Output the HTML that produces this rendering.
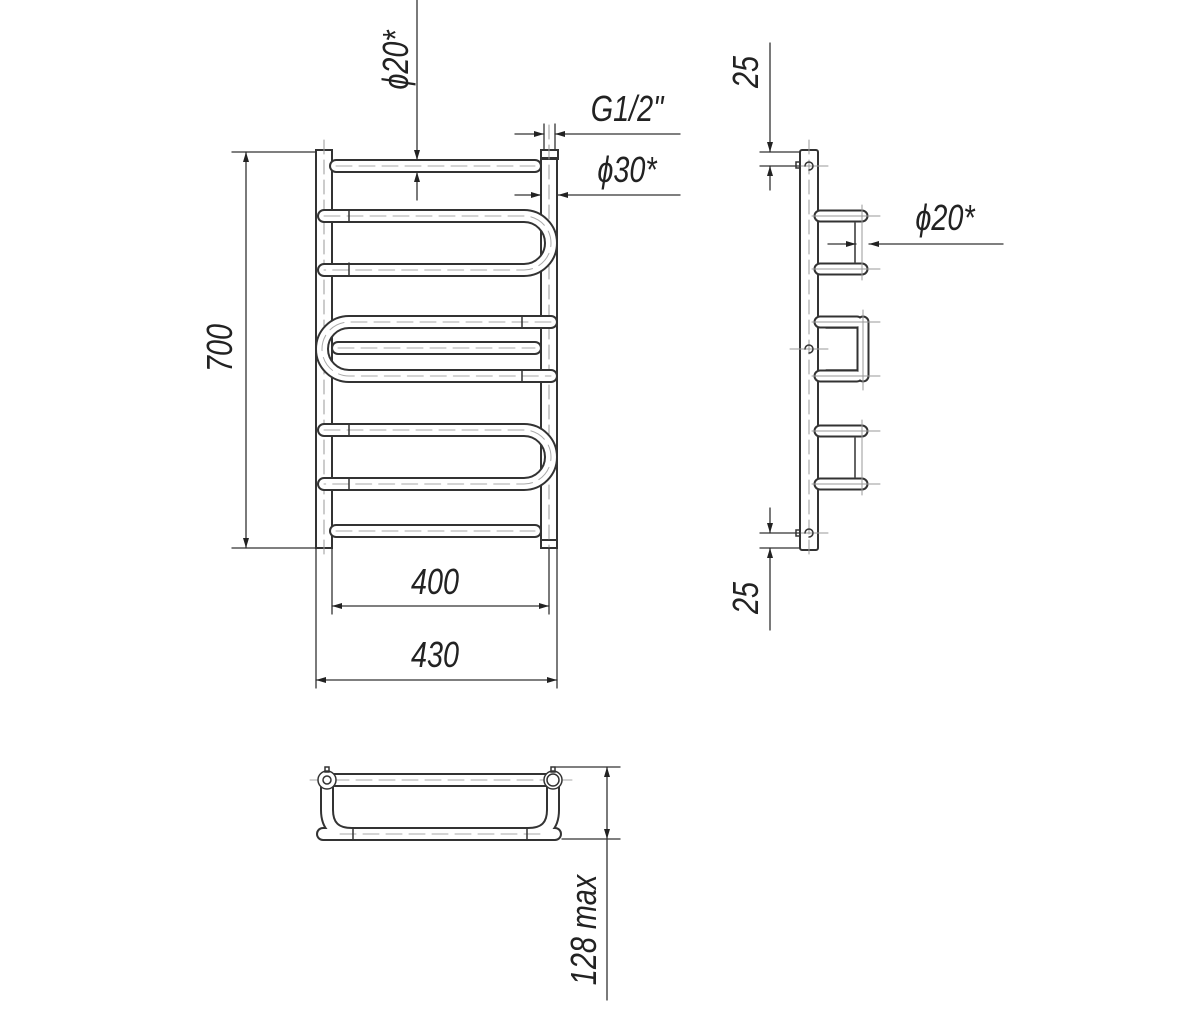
<!DOCTYPE html>
<html><head><meta charset="utf-8"><style>
html,body{margin:0;padding:0;background:#fff}
svg{display:block}
text{font-family:"Liberation Sans",sans-serif;font-style:italic;fill:#222;font-size:36px}
</style></head><body>
<svg width="1200" height="1011" viewBox="0 0 1200 1011" xmlns="http://www.w3.org/2000/svg">
<defs>
<marker id="a" viewBox="0 0 10 6" refX="10" refY="3" markerWidth="10" markerHeight="6" orient="auto-start-reverse" markerUnits="userSpaceOnUse"><path d="M0,0 L10,3 L0,6 z" fill="#222"/></marker>
</defs>
<g fill="none" stroke-linecap="round">
<rect x="316" y="150" width="16" height="398" stroke="#333" stroke-width="2" fill="#fff"/>
<rect x="541" y="158" width="16" height="390" stroke="#333" stroke-width="2" fill="#fff"/>
<rect x="541" y="150" width="17" height="9" stroke="#333" stroke-width="2"/>
<rect x="541" y="540" width="16" height="8" stroke="#333" stroke-width="2"/>
<line x1="324" y1="140" x2="324" y2="560" stroke="#999" stroke-width="1" stroke-dasharray="14 6"/>
<line x1="549" y1="125" x2="549" y2="560" stroke="#999" stroke-width="1" stroke-dasharray="14 6"/>
<g stroke="#333" stroke-width="14">
<path d="M336 166 H535"/><path d="M324 216 H524 A27 27 0 0 1 524 270 H324"/>
<path d="M551 322 H349 A27 27 0 0 0 349 376 H551"/><path d="M338 348 H535"/>
<path d="M324 430 H524 A27 27 0 0 1 524 484 H324"/><path d="M336 531 H535"/>
</g>
<g stroke="#fff" stroke-width="10">
<path d="M336 166 H535"/><path d="M324 216 H524 A27 27 0 0 1 524 270 H324"/>
<path d="M551 322 H349 A27 27 0 0 0 349 376 H551"/><path d="M338 348 H535"/>
<path d="M324 430 H524 A27 27 0 0 1 524 484 H324"/><path d="M336 531 H535"/>
</g>
<g stroke="#aaa" stroke-width="1" stroke-dasharray="16 7">
<path d="M336 166 H535"/><path d="M324 216 H524 A27 27 0 0 1 524 270 H324"/>
<path d="M551 322 H349 A27 27 0 0 0 349 376 H551"/><path d="M338 348 H535"/>
<path d="M324 430 H524 A27 27 0 0 1 524 484 H324"/><path d="M336 531 H535"/>
</g>
<g stroke="#333" stroke-width="1.5">
<line x1="349" y1="210" x2="349" y2="222"/><line x1="349" y1="263" x2="349" y2="276"/>
<line x1="522" y1="316" x2="522" y2="328"/><line x1="522" y1="370" x2="522" y2="382"/>
<line x1="349" y1="424" x2="349" y2="436"/><line x1="349" y1="478" x2="349" y2="490"/>
</g>
<g stroke="#333" stroke-width="1.3">
<line x1="232" y1="152" x2="316" y2="152"/><line x1="232" y1="548" x2="316" y2="548"/>
<line x1="246" y1="152" x2="246" y2="548" marker-start="url(#a)" marker-end="url(#a)"/>
<line x1="332" y1="548" x2="332" y2="614"/><line x1="549" y1="548" x2="549" y2="614"/>
<line x1="332" y1="606" x2="549" y2="606" marker-start="url(#a)" marker-end="url(#a)"/>
<line x1="316" y1="548" x2="316" y2="688"/><line x1="557" y1="548" x2="557" y2="688"/>
<line x1="316" y1="680" x2="557" y2="680" marker-start="url(#a)" marker-end="url(#a)"/>
<line x1="417" y1="0" x2="417" y2="160" marker-end="url(#a)"/>
<line x1="417" y1="200" x2="417" y2="172" marker-end="url(#a)"/>
<line x1="400" y1="160" x2="440" y2="160"/><line x1="400" y1="172" x2="440" y2="172"/>
<line x1="515" y1="134" x2="544" y2="134" marker-end="url(#a)"/>
<line x1="680" y1="134" x2="555" y2="134" marker-end="url(#a)"/>
<line x1="544" y1="124" x2="544" y2="150"/><line x1="555" y1="124" x2="555" y2="150"/>
<line x1="515" y1="195" x2="541" y2="195" marker-end="url(#a)"/>
<line x1="680" y1="195" x2="558" y2="195" marker-end="url(#a)"/>
</g>
</g>
<text transform="translate(232,348) rotate(-90) scale(0.8,1)" text-anchor="middle">700</text>
<text transform="translate(435,594) scale(0.8,1)" text-anchor="middle">400</text>
<text transform="translate(435,667) scale(0.8,1)" text-anchor="middle">430</text>
<text transform="translate(408,60) rotate(-90) scale(0.8,1)" text-anchor="middle">ϕ20*</text>
<text transform="translate(627,121) scale(0.8,1)" text-anchor="middle">G1/2"</text>
<text transform="translate(627,182) scale(0.8,1)" text-anchor="middle">ϕ30*</text>
<g fill="none" stroke-linecap="round">
<rect x="800" y="150" width="18" height="400" rx="2" stroke="#333" stroke-width="2" fill="#fff"/>
<line x1="809" y1="140" x2="809" y2="560" stroke="#999" stroke-width="1" stroke-dasharray="14 6"/>
<g stroke="#333" stroke-width="13"><path d="M820 216 H862 M820 269 H862 M820 431 H862 M820 484 H862 M863 322 V376 M820 322 H857 M820 376 H857"/></g>
<g stroke="#fff" stroke-width="9"><path d="M820 216 H862 M820 269 H862 M820 431 H862 M820 484 H862 M863 322 V376 M820 322 H857 M820 376 H857"/></g>
<g stroke="#333" stroke-width="1.5"><path d="M855 223 V262 M855 438 V477 M826 328 H857 M826 370 H857"/></g>
<g stroke="#999" stroke-width="1"><path d="M812 216 H880 M812 269 H880 M812 322 H880 M812 376 H880 M812 431 H880 M812 484 H880 M862 205 V280 M862 420 V495 M863 310 V390 M790 349 H828 M790 166 H828 M790 533 H828"/></g>
<g stroke="#333" stroke-width="1.5"><path d="M805 166 A4 4 0 1 1 809 170 M805 349 A4 4 0 1 1 809 353 M805 533 A4 4 0 1 1 809 537"/><rect x="796" y="162" width="4" height="6"/><rect x="796" y="530" width="4" height="6"/></g>
<g stroke="#333" stroke-width="1.3">
<line x1="760" y1="152" x2="800" y2="152"/><line x1="760" y1="166" x2="800" y2="166"/>
<line x1="770" y1="43" x2="770" y2="152" marker-end="url(#a)"/><line x1="770" y1="190" x2="770" y2="166" marker-end="url(#a)"/>
<line x1="760" y1="533" x2="800" y2="533"/><line x1="760" y1="548" x2="800" y2="548"/>
<line x1="770" y1="508" x2="770" y2="533" marker-end="url(#a)"/><line x1="770" y1="630" x2="770" y2="548" marker-end="url(#a)"/>
<line x1="828" y1="244" x2="856" y2="244" marker-end="url(#a)"/><line x1="1003" y1="244" x2="869" y2="244" marker-end="url(#a)"/>
</g>
</g>
<text transform="translate(758,72) rotate(-90) scale(0.8,1)" text-anchor="middle">25</text>
<text transform="translate(758,598) rotate(-90) scale(0.8,1)" text-anchor="middle">25</text>
<text transform="translate(945,230) scale(0.8,1)" text-anchor="middle">ϕ20*</text>
<g fill="none" stroke-linecap="round">
<g stroke="#333" stroke-width="14"><path d="M323 834 H555"/><path d="M327 780 H553"/><path d="M327 786 V810 Q327 834 352 834"/><path d="M553 786 V810 Q553 834 528 834"/></g>
<g stroke="#fff" stroke-width="10"><path d="M323 834 H555"/><path d="M327 780 H553"/><path d="M327 786 V810 Q327 834 352 834"/><path d="M553 786 V810 Q553 834 528 834"/></g>
<g stroke="#aaa" stroke-width="1" stroke-dasharray="16 7"><path d="M310 780 H572 M340 834 H540"/></g>
<g stroke="#333" stroke-width="1.5">
<line x1="353" y1="828" x2="353" y2="840"/><line x1="527" y1="828" x2="527" y2="840"/>
<circle cx="327" cy="780" r="9" fill="#fff"/><circle cx="327" cy="780" r="4"/>
<circle cx="553" cy="780" r="9" fill="#fff"/><circle cx="553" cy="780" r="6"/>
<rect x="325" y="767" width="4" height="5"/><rect x="551" y="767" width="4" height="5"/>
</g>
<g stroke="#333" stroke-width="1.3">
<line x1="556" y1="767" x2="620" y2="767"/><line x1="562" y1="839" x2="620" y2="839"/>
<line x1="607" y1="767" x2="607" y2="839" marker-start="url(#a)" marker-end="url(#a)"/>
<line x1="607" y1="839" x2="607" y2="1000"/>
</g>
</g>
<text transform="translate(596,930) rotate(-90) scale(0.8,1)" text-anchor="middle">128 max</text>
</svg>
</body></html>
